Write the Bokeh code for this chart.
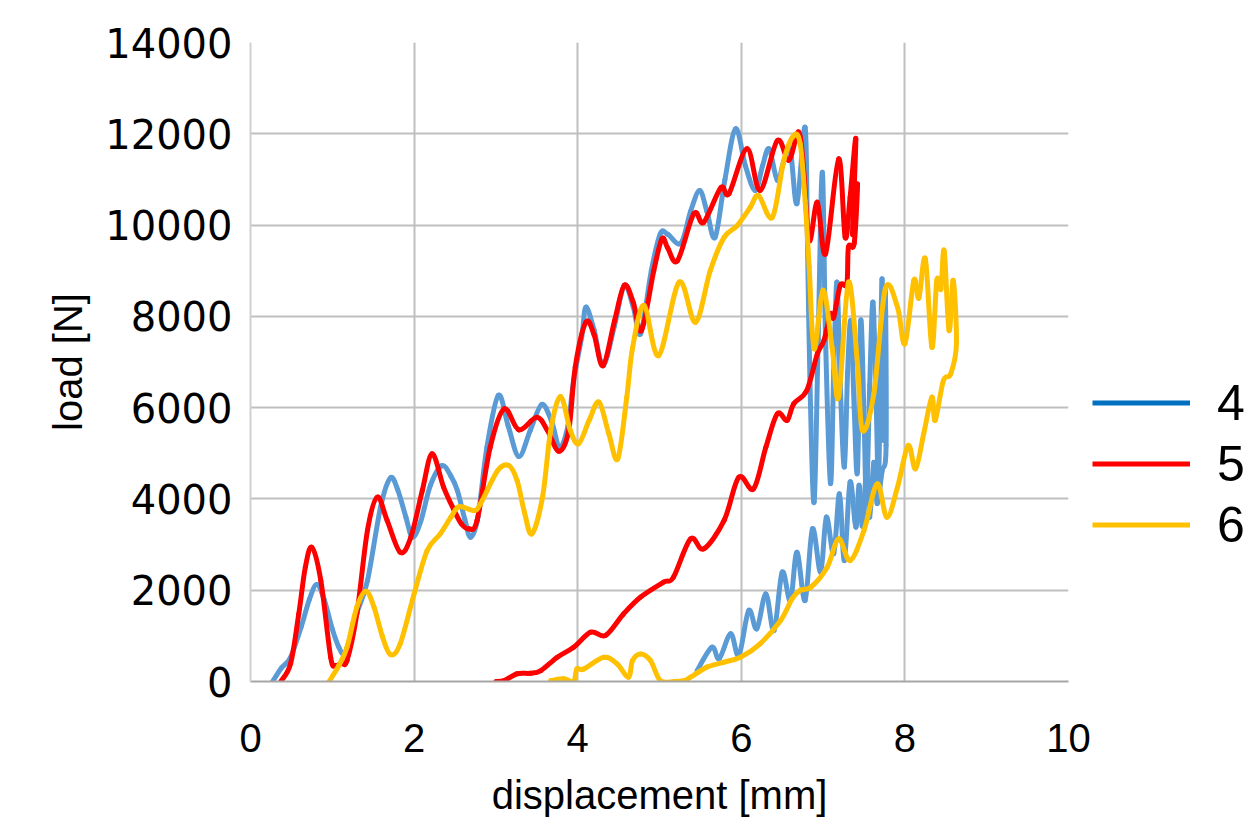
import math
from bokeh.plotting import figure
from bokeh.models import Legend, LegendItem, Range1d, FixedTicker, ColumnDataSource
from bokeh.embed import file_html
from bokeh.resources import INLINE

# ---------------- data ----------------
x_ticks = [0, 2, 4, 6, 8, 10]
y_ticks = [0, 2000, 4000, 6000, 8000, 10000, 12000, 14000]
series_names = ["4", "5", "6"]

x4 = [0.27, 0.38, 0.49, 0.62, 0.72, 0.81, 0.90, 1.00, 1.08, 1.14, 1.20, 1.30, 1.43, 1.59, 1.71,
      1.80, 1.90, 1.98, 2.08, 2.20, 2.34, 2.45, 2.53, 2.62, 2.69, 2.78, 2.89, 3.03, 3.15, 3.28,
      3.42, 3.56, 3.68, 3.78, 3.88, 3.95, 4.05, 4.10, 4.20, 4.31, 4.45, 4.57, 4.68, 4.77, 4.90,
      5.01, 5.10, 5.26, 5.38, 5.49, 5.58, 5.68, 5.80, 5.93, 6.05, 6.17, 6.26, 6.34, 6.44, 6.52,
      6.60, 6.68, 6.78,
      6.81, 6.84, 6.89, 6.94, 6.99, 7.03, 7.09, 7.13, 7.17, 7.21, 7.26, 7.30, 7.34, 7.38, 7.42,
      7.46, 7.50, 7.53, 7.57, 7.61, 7.65, 7.68, 7.72, 7.74, 7.76, 7.77,
      7.72, 7.66, 7.62, 7.57, 7.53, 7.48, 7.44, 7.40, 7.33, 7.26, 7.20, 7.13, 7.04, 6.97, 6.87,
      6.78, 6.68, 6.60, 6.50, 6.40, 6.30, 6.19, 6.09, 5.97, 5.87, 5.73, 5.64, 5.46]
y4 = [0, 300, 530, 1200, 1800, 2125, 1800, 1150, 750, 600, 850, 1500, 2210, 3820, 4460,
      4200, 3600, 3160, 3500, 4300, 4730, 4500, 4180, 3550, 3160, 3600, 5130, 6270, 5600, 4930,
      5500, 6070, 5700, 5130, 5600, 6590, 7560, 8200, 7700, 6920, 7800, 8680, 8200, 7620, 9000,
      9810, 9800, 9600, 10300, 10760, 10300, 9730, 11000, 12110, 11300, 10760, 11300, 11670, 10980, 11400,
      11630, 10470, 12140,
      9500, 6500, 3930, 7500, 11160, 7500, 4340, 6800, 8750, 6500, 4700, 6800, 7900, 6000, 4600,
      7910, 5800, 4040, 6500, 8310, 6000, 4480, 8820, 5280, 8600, 5170,
      4600, 3900, 4800, 3600, 4600, 3400, 4300, 3380, 4370, 2650, 4110, 2800, 3600, 2395, 3345,
      1775, 2830, 1775, 2395, 1120, 1920, 1155, 1555, 570, 1045, 500, 750, 240]

x5 = [0.37, 0.49, 0.59, 0.67, 0.75, 0.86, 0.98, 1.04, 1.11, 1.18, 1.30, 1.43, 1.55, 1.67, 1.83,
      1.96, 2.10, 2.22, 2.36, 2.49, 2.58, 2.67, 2.77, 2.93, 3.10, 3.28, 3.50, 3.63, 3.77, 3.89,
      3.97, 4.10, 4.20, 4.31, 4.45, 4.57, 4.68, 4.78, 4.93, 5.03, 5.10, 5.22, 5.42, 5.54, 5.75,
      5.85, 6.07, 6.23, 6.44, 6.58, 6.70, 6.76, 6.83, 6.93, 7.03, 7.19, 7.27, 7.33, 7.40, 7.36,
      7.42, 7.38,
      7.31, 7.29, 7.21, 7.13, 7.09, 7.01, 6.93, 6.80, 6.64, 6.56, 6.44, 6.30, 6.15, 5.97, 5.79,
      5.54, 5.38, 5.17, 5.05, 4.77, 4.56, 4.34, 4.16, 3.95, 3.75, 3.55, 3.42, 3.26, 3.10, 3.00]
y5 = [0, 390, 1480, 2500, 2940, 2210, 530, 350, 400, 460, 1480, 3310, 4040, 3530, 2830,
      3160, 4180, 4990, 4260, 3750, 3450, 3345, 3530, 5130, 5975, 5515, 5790, 5500, 5045, 5500,
      6890, 7870, 7600, 6920, 7900, 8680, 8300, 7690, 9000, 9700, 9500, 9220, 10250, 10060, 10820,
      10690, 11670, 10760, 11850, 11420, 12040, 11270, 9660, 10500, 9370, 11450, 9730, 10610, 11890, 9800,
      10900, 9600,
      9520, 8710, 8680, 7980, 8050, 7470, 7180, 6375, 6085, 5720, 5865, 5130, 4220, 4475, 3530,
      2905, 3125, 2285, 2175, 1850, 1480, 1010, 1080, 750, 530, 240, 180, 170, 20, 0]

x6 = [0.96, 1.08, 1.18, 1.30, 1.41, 1.51, 1.61, 1.71, 1.83, 2.00, 2.16, 2.32, 2.45, 2.55, 2.73,
      2.81, 3.02, 3.16, 3.26, 3.35, 3.44, 3.57, 3.67, 3.79, 3.91, 4.01, 4.14, 4.26, 4.38, 4.49,
      4.60, 4.67, 4.81, 4.99, 5.24, 5.44, 5.62, 5.79, 5.95, 6.11, 6.21, 6.38, 6.52, 6.64, 6.72,
      6.78, 6.83, 6.89, 7.00, 7.11, 7.19, 7.31, 7.42, 7.48, 7.62, 7.76, 7.91, 8.00, 8.11, 8.17,
      8.25, 8.33, 8.39, 8.44, 8.48, 8.54, 8.59, 8.63,
      8.56, 8.47, 8.37, 8.33, 8.23, 8.13, 8.04, 7.91, 7.78, 7.66, 7.50, 7.33, 7.19, 7.05, 6.85,
      6.72, 6.62, 6.48, 6.23, 5.99, 5.79, 5.58, 5.38, 5.30, 5.18, 5.01, 4.89, 4.77, 4.67, 4.62,
      4.48, 4.32, 4.07, 3.99, 3.95, 3.83, 3.67]
y6 = [0, 350, 750, 1630, 1980, 1630, 1000, 590, 825, 1920, 2870, 3235, 3600, 3830, 3745,
      3890, 4620, 4730, 4400, 3700, 3235, 4040, 5500, 6245, 5500, 5210, 5720, 6120, 5430, 4880,
      6230, 7300, 8240, 7140, 8750, 7870, 9000, 9730, 9990, 10390, 10650, 10170, 11420, 11960, 11780,
      10540, 9080, 7290, 8570, 7320, 6230, 8750, 6960, 5500, 6300, 8600, 8200, 7400, 8790, 8400,
      9260, 7320, 8790, 8600, 9440, 7690, 8790, 7400,
      6740, 6590, 5720, 6230, 5430, 4660, 5170, 4260, 3600, 4330, 3310, 2650, 3125, 2505, 2065,
      1995, 1810, 1335, 825, 530, 425, 315, 95, 20, 0, 20, 460, 605, 460, 95,
      390, 530, 270, 280, 0, 60, 20]

line_colors = ["#5B9BD5", "#FF0000", "#FFC000"]
legend_colors = ["#0070C0", "#FF0000", "#FFC000"]


def smooth_segments(xv, yv):
    """Excel-style smoothed line: one cubic Bezier per pair of read points
    (Catmull-Rom control points), passing exactly through every point."""
    n = len(xv)
    d = {k: [] for k in ("x0", "y0", "x1", "y1", "cx0", "cy0", "cx1", "cy1")}
    for i in range(n - 1):
        i0 = max(i - 1, 0)
        i3 = min(i + 2, n - 1)
        d["x0"].append(xv[i]); d["y0"].append(yv[i])
        d["x1"].append(xv[i + 1]); d["y1"].append(yv[i + 1])
        d["cx0"].append(xv[i] + (xv[i + 1] - xv[i0]) / 6.0)
        d["cy0"].append(yv[i] + (yv[i + 1] - yv[i0]) / 6.0)
        d["cx1"].append(xv[i + 1] - (xv[i3] - xv[i]) / 6.0)
        d["cy1"].append(yv[i + 1] - (yv[i3] - yv[i]) / 6.0)
    return ColumnDataSource(d)


# ---------------- figure ----------------
p = figure(frame_width=818, frame_height=639,
           x_range=Range1d(0, 10), y_range=Range1d(0, 14000),
           min_border_left=250, min_border_right=168, min_border_top=42, min_border_bottom=128,
           output_backend="svg", toolbar_location=None)
p.outline_line_color = None
p.background_fill_color = "white"
p.border_fill_color = "white"

for g in (p.xgrid, p.ygrid):
    g.grid_line_color = "#BFBFBF"
    g.grid_line_width = 2
p.xgrid.ticker = FixedTicker(ticks=x_ticks)
p.ygrid.ticker = FixedTicker(ticks=y_ticks)

p.xaxis.ticker = FixedTicker(ticks=x_ticks)
p.yaxis.ticker = FixedTicker(ticks=y_ticks)
for ax in (p.xaxis, p.yaxis):
    ax.major_tick_line_color = None
    ax.minor_tick_line_color = None
    ax.major_label_text_color = "black"
    ax.axis_label_text_color = "black"
    ax.axis_label_text_font_style = "normal"
p.xaxis.axis_line_color = "#A6A6A6"
p.xaxis.axis_line_width = 2
p.yaxis.axis_line_color = "#D0D0D0"
p.yaxis.axis_line_width = 2

p.xaxis.major_label_text_font = "Liberation Sans"
p.xaxis.major_label_text_font_size = "40px"
p.xaxis.major_label_standoff = 36
p.xaxis.axis_label = "displacement [mm]"
p.xaxis.axis_label_text_font = "Liberation Sans"
p.xaxis.axis_label_text_font_size = "40px"
p.xaxis.axis_label_standoff = 18

p.yaxis.major_label_text_font = "DejaVu Sans"
p.yaxis.major_label_text_font_size = "40px"
p.yaxis.major_label_standoff = 12
p.yaxis.axis_label = "load [N]"
p.yaxis.axis_label_text_font = "Liberation Sans"
p.yaxis.axis_label_text_font_size = "40px"
p.yaxis.axis_label_standoff = 12

xs = [x4, x5, x6]
ys = [y4, y5, y6]
for xv, yv, c in zip(xs, ys, line_colors):
    p.bezier(x0="x0", y0="y0", x1="x1", y1="y1", cx0="cx0", cy0="cy0", cx1="cx1", cy1="cy1",
             source=smooth_segments(xv, yv), line_color=c, line_width=5, line_cap="round")

items = []
nan = float("nan")
for name, c in zip(series_names, legend_colors):
    r = p.line([nan, nan], [nan, nan], line_color=c, line_width=5)
    items.append(LegendItem(label=name, renderers=[r]))

legend = Legend(items=items, location=(24, 126), orientation="vertical",
                glyph_width=98, glyph_height=61, label_height=61, spacing=0,
                label_standoff=27, padding=0, margin=0,
                label_text_font="Liberation Sans", label_text_font_size="50px",
                label_text_color="black", border_line_color=None,
                background_fill_alpha=0)
p.add_layout(legend, "right")

open("out.html", "w").write(file_html(p, INLINE))
